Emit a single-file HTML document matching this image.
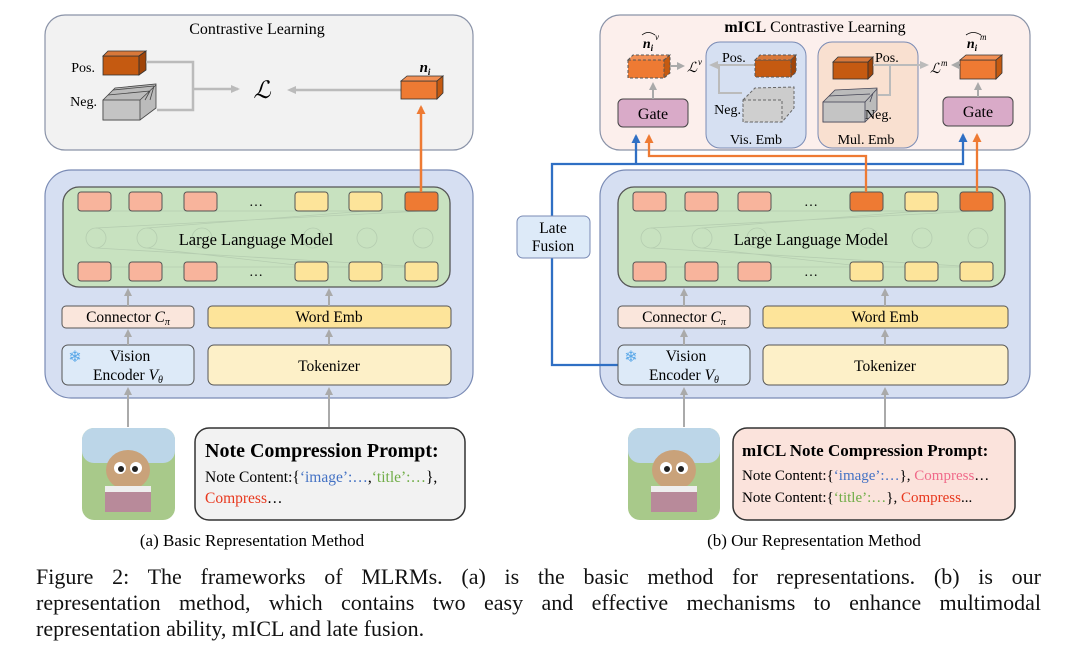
<!DOCTYPE html>
<html><head><meta charset="utf-8"><style>
body{margin:0;background:#fff;width:1080px;height:651px;overflow:hidden;position:relative;font-family:"Liberation Serif",serif}
svg{position:absolute;left:0;top:0}
.cap{position:absolute;left:36px;width:1005px;font-size:22px;color:#111;white-space:nowrap}
.j{text-align:justify;text-align-last:justify;white-space:normal}
</style></head><body>
<svg width="1080" height="651" viewBox="0 0 1080 651" font-family="Liberation Serif, serif">
<defs>
<marker id="ag" markerWidth="8" markerHeight="8" refX="6" refY="4" orient="auto" markerUnits="userSpaceOnUse"><path d="M0,0 L8,4 L0,8 Z" fill="#aaa"/></marker>
<marker id="ao" markerWidth="9" markerHeight="9" refX="7" refY="4.5" orient="auto" markerUnits="userSpaceOnUse"><path d="M0,0 L9,4.5 L0,9 Z" fill="#ee7a33"/></marker>
<marker id="ab" markerWidth="9" markerHeight="9" refX="7" refY="4.5" orient="auto" markerUnits="userSpaceOnUse"><path d="M0,0 L9,4.5 L0,9 Z" fill="#2f6fc4"/></marker>
<g id="llm">
<rect x="0" y="0" width="387" height="100" rx="16" fill="#c8e2c0" stroke="#555" stroke-width="1.3"/>
<g stroke="#b5cdb0" stroke-width="0.8" fill="none">
<circle cx="33" cy="51" r="10"/><circle cx="84" cy="51" r="10"/><circle cx="139" cy="51" r="10"/><circle cx="250" cy="51" r="10"/><circle cx="304" cy="51" r="10"/><circle cx="360" cy="51" r="10"/>
<path d="M33,24 L360,24 M33,80 L360,80 M33,41 L360,24 M84,41 L304,24 M33,61 L360,80 M84,61 L250,80"/>
</g>
</g>
</defs>

<!-- LEFT -->
<rect x="45" y="15" width="428" height="135" rx="20" fill="#f2f2f2" stroke="#8a93a8" stroke-width="1.2"/>
<text x="257" y="34" font-size="16" text-anchor="middle">Contrastive Learning</text>
<text x="95" y="72" font-size="14" text-anchor="end">Pos.</text>
<text x="97" y="106" font-size="14" text-anchor="end">Neg.</text>
<rect x="103" y="56" width="36" height="19" fill="#c55a11" stroke="#333" stroke-width="0.8"/>
<path d="M103,56 L108,51 L146,51 L139,56 Z" fill="#d8783a" stroke="#333" stroke-width="0.8"/>
<path d="M139,56 L146,51 L146,70 L139,75 Z" fill="#a04408" stroke="#333" stroke-width="0.8"/>
<path d="M103,100 L115,88 L156,84 L156,108 L140,120 L103,120 Z" fill="#bbb" stroke="#444" stroke-width="0.8"/>
<rect x="103" y="100" width="37" height="20" fill="#c4c4c4" stroke="#444" stroke-width="0.8"/>
<path d="M140,100 L156,85 M108,95 L150,91 M113,90 L154,86 M145,100 L150,91 M150,100 L154,86" stroke="#444" stroke-width="0.8" fill="none"/>
<path d="M146,62 L193,62 L193,110 L157,110 M193,89 L238,89" stroke="#bbb" stroke-width="2.5" fill="none"/>
<path d="M231,85 L240,89 L231,93 Z" fill="#bbb"/>
<text x="262" y="98" font-size="24" font-style="italic" text-anchor="middle">ℒ</text>
<path d="M401,90 L290,90" stroke="#bbb" stroke-width="2.5"/>
<path d="M296,86 L287,90 L296,94 Z" fill="#bbb"/>
<text x="425" y="72" font-size="15" font-weight="bold" font-style="italic" text-anchor="middle">n<tspan font-size="9" dy="3">i</tspan></text>
<rect x="401" y="81" width="36" height="18" fill="#ee7a33" stroke="#333" stroke-width="0.8"/>
<path d="M401,81 L407,76 L443,76 L437,81 Z" fill="#f29055" stroke="#333" stroke-width="0.8"/>
<path d="M437,81 L443,76 L443,93 L437,99 Z" fill="#c55a11" stroke="#333" stroke-width="0.8"/>

<rect x="45" y="170" width="428" height="228" rx="26" fill="#d6dff2" stroke="#7a8bb5" stroke-width="1.2"/>
<use href="#llm" x="63" y="187"/>
<g stroke="#555" stroke-width="1">
<rect x="78" y="192" width="33" height="19" rx="3" fill="#f8b49c"/><rect x="129" y="192" width="33" height="19" rx="3" fill="#f8b49c"/><rect x="184" y="192" width="33" height="19" rx="3" fill="#f8b49c"/>
<rect x="295" y="192" width="33" height="19" rx="3" fill="#fde49a"/><rect x="349" y="192" width="33" height="19" rx="3" fill="#fde49a"/><rect x="405" y="192" width="33" height="19" rx="3" fill="#ee7a33"/>
<rect x="78" y="262" width="33" height="19" rx="3" fill="#f8b49c"/><rect x="129" y="262" width="33" height="19" rx="3" fill="#f8b49c"/><rect x="184" y="262" width="33" height="19" rx="3" fill="#f8b49c"/>
<rect x="295" y="262" width="33" height="19" rx="3" fill="#fde49a"/><rect x="349" y="262" width="33" height="19" rx="3" fill="#fde49a"/><rect x="405" y="262" width="33" height="19" rx="3" fill="#fde49a"/>
</g>
<text x="256" y="206" font-size="14" text-anchor="middle">…</text><text x="256" y="276" font-size="14" text-anchor="middle">…</text>
<text x="256" y="245" font-size="16.5" text-anchor="middle">Large Language Model</text>
<path d="M421,192 L421,107" stroke="#ee7a33" stroke-width="2.5" marker-end="url(#ao)"/>
<rect x="62" y="306" width="132" height="22" rx="4" fill="#fae6dc" stroke="#555"/>
<text x="128" y="322" font-size="15.5" text-anchor="middle">Connector <tspan font-style="italic">C</tspan><tspan font-size="10" dy="3" font-style="italic">π</tspan></text>
<rect x="208" y="306" width="243" height="22" rx="4" fill="#fde49a" stroke="#555"/>
<text x="329" y="322" font-size="15.5" text-anchor="middle">Word Emb</text>
<rect x="62" y="345" width="132" height="40" rx="6" fill="#ddeaf8" stroke="#555"/>
<text x="75" y="362" font-size="16" fill="#5aa8e8" text-anchor="middle">❄</text>
<text x="130" y="361" font-size="15.5" text-anchor="middle">Vision</text>
<text x="128" y="380" font-size="15.5" text-anchor="middle">Encoder <tspan font-style="italic">V</tspan><tspan font-size="10" dy="3" font-style="italic">θ</tspan></text>
<rect x="208" y="345" width="243" height="40" rx="6" fill="#fdf0c8" stroke="#555"/>
<text x="329" y="371" font-size="15.5" text-anchor="middle">Tokenizer</text>
<g stroke="#aaa" stroke-width="2" marker-end="url(#ag)">
<path d="M128,345 L128,331"/><path d="M329,345 L329,331"/><path d="M128,306 L128,290"/><path d="M329,306 L329,290"/>
<path d="M128,427 L128,389"/><path d="M329,427 L329,389"/>
</g>
<rect x="82" y="428" width="93" height="92" rx="12" fill="#a8c98a"/>
<rect x="82" y="428" width="93" height="35" rx="12" fill="#bcd6e8"/>
<ellipse cx="128" cy="470" rx="22" ry="20" fill="#c9a27a"/>
<circle cx="120" cy="468" r="6" fill="#fff"/><circle cx="136" cy="468" r="6" fill="#fff"/><circle cx="121" cy="469" r="3" fill="#222"/><circle cx="135" cy="469" r="3" fill="#222"/>
<rect x="105" y="488" width="46" height="24" fill="#b88a9a"/><rect x="105" y="486" width="46" height="6" fill="#eee"/>
<rect x="195" y="428" width="270" height="92" rx="14" fill="#f2f2f2" stroke="#333" stroke-width="1.5"/>
<text x="205" y="457" font-size="20" font-weight="bold">Note Compression Prompt:</text>
<text x="205" y="482" font-size="15.5">Note Content:{<tspan fill="#4472c4">‘image’:…</tspan>,<tspan fill="#70ad47">‘title’:…</tspan>},</text>
<text x="205" y="503" font-size="15.5"><tspan fill="#e8381e">Compress</tspan>…</text>
<text x="252" y="546" font-size="17" text-anchor="middle">(a) Basic Representation Method</text>

<!-- RIGHT -->
<rect x="600" y="15" width="430" height="135" rx="20" fill="#fcefec" stroke="#8a93a8" stroke-width="1.2"/>
<text x="815" y="32" font-size="16" text-anchor="middle"><tspan font-weight="bold">mICL</tspan> Contrastive Learning</text>
<rect x="706" y="42" width="100" height="106" rx="14" fill="#d6e0f2" stroke="#7a8bb5"/>
<rect x="818" y="42" width="100" height="106" rx="14" fill="#f9e0d0" stroke="#7a8bb5"/>
<text x="756" y="144" font-size="14" text-anchor="middle">Vis. Emb</text>
<text x="866" y="144" font-size="14" text-anchor="middle">Mul. Emb</text>
<rect x="618" y="99" width="70" height="28" rx="5" fill="#d9aac8" stroke="#444"/>
<text x="653" y="119" font-size="16" text-anchor="middle">Gate</text>
<rect x="943" y="97" width="70" height="29" rx="5" fill="#d9aac8" stroke="#444"/>
<text x="978" y="117" font-size="16" text-anchor="middle">Gate</text>
<text x="648" y="48" font-size="14" font-weight="bold" font-style="italic" text-anchor="middle">n<tspan font-size="9" dy="3">i</tspan></text>
<text x="655" y="40" font-size="9" font-style="italic">v</text>
<path d="M642,35 Q648,30 655,35" stroke="#000" fill="none" stroke-width="0.8"/>
<rect x="628" y="60" width="36" height="18" fill="#ee7a33" stroke="#555" stroke-dasharray="3,2"/>
<path d="M628,60 L633,55 L670,55 L664,60 Z" fill="#f29055" stroke="#555" stroke-dasharray="3,2"/>
<path d="M664,60 L670,55 L670,73 L664,78 Z" fill="#c55a11" stroke="#555" stroke-dasharray="3,2"/>
<path d="M653,99 L653,84" stroke="#aaa" stroke-width="2" marker-end="url(#ag)"/>
<path d="M670,66 L683,66" stroke="#aaa" stroke-width="2" marker-end="url(#ag)"/>
<text x="687" y="72" font-size="14" font-style="italic">ℒ</text><text x="698" y="65" font-size="9" font-style="italic">v</text>
<path d="M755,65 L712,65 M719,65 L719,93 L742,93" stroke="#bbb" stroke-width="2" fill="none"/>
<path d="M718,61 L709,65 L718,69 Z" fill="#bbb"/>
<text x="722" y="62" font-size="14">Pos.</text>
<rect x="755" y="60" width="36" height="17" fill="#c55a11" stroke="#555" stroke-dasharray="3,2"/>
<path d="M755,60 L760,55 L796,55 L791,60 Z" fill="#d8783a" stroke="#555" stroke-dasharray="3,2"/>
<path d="M791,60 L796,55 L796,72 L791,77 Z" fill="#a04408" stroke="#555" stroke-dasharray="3,2"/>
<path d="M743,100 L755,88 L794,87 L794,108 L782,122 L743,122 Z" fill="#ccc" stroke="#666" stroke-dasharray="3,2"/>
<rect x="743" y="100" width="39" height="22" fill="#cfcfcf" stroke="#666" stroke-dasharray="3,2"/>
<text x="741" y="114" font-size="14" text-anchor="end">Neg.</text>
<rect x="833" y="62" width="35" height="17" fill="#c55a11" stroke="#333" stroke-width="0.8"/>
<path d="M833,62 L838,57 L873,57 L868,62 Z" fill="#d8783a" stroke="#333" stroke-width="0.8"/>
<path d="M868,62 L873,57 L873,74 L868,79 Z" fill="#a04408" stroke="#333" stroke-width="0.8"/>
<text x="875" y="62" font-size="14">Pos.</text>
<path d="M873,65 L922,65 M890,65 L890,95 L878,95" stroke="#bbb" stroke-width="2" fill="none"/>
<path d="M920,61 L929,65 L920,69 Z" fill="#bbb"/>
<path d="M823,102 L835,90 L877,88 L877,110 L865,122 L823,122 Z" fill="#bbb" stroke="#445" stroke-width="0.8"/>
<rect x="823" y="102" width="42" height="20" fill="#c4c4c4" stroke="#445" stroke-width="0.8"/>
<path d="M865,102 L877,89 M829,96 L870,94 M870,102 L873,93" stroke="#445" stroke-width="0.8" fill="none"/>
<text x="865" y="119" font-size="14">Neg.</text>
<text x="930" y="73" font-size="14" font-style="italic">ℒ</text><text x="941" y="66" font-size="9" font-style="italic">m</text>
<path d="M960,65 L953,65" stroke="#aaa" stroke-width="2" marker-end="url(#ag)"/>
<text x="972" y="48" font-size="14" font-weight="bold" font-style="italic" text-anchor="middle">n<tspan font-size="9" dy="3">i</tspan></text>
<text x="980" y="40" font-size="9" font-style="italic">m</text>
<path d="M966,35 Q973,30 981,35" stroke="#000" fill="none" stroke-width="0.8"/>
<rect x="960" y="60" width="36" height="19" fill="#ee7a33" stroke="#333" stroke-width="0.8"/>
<path d="M960,60 L966,55 L1002,55 L996,60 Z" fill="#f29055" stroke="#333" stroke-width="0.8"/>
<path d="M996,60 L1002,55 L1002,73 L996,79 Z" fill="#c55a11" stroke="#333" stroke-width="0.8"/>
<path d="M978,97 L978,84" stroke="#aaa" stroke-width="2" marker-end="url(#ag)"/>

<rect x="600" y="170" width="430" height="228" rx="26" fill="#d6dff2" stroke="#7a8bb5" stroke-width="1.2"/>
<use href="#llm" x="618" y="187"/>
<g stroke="#555" stroke-width="1">
<rect x="633" y="192" width="33" height="19" rx="3" fill="#f8b49c"/><rect x="685" y="192" width="33" height="19" rx="3" fill="#f8b49c"/><rect x="738" y="192" width="33" height="19" rx="3" fill="#f8b49c"/>
<rect x="850" y="192" width="33" height="19" rx="3" fill="#ee7a33"/><rect x="905" y="192" width="33" height="19" rx="3" fill="#fde49a"/><rect x="960" y="192" width="33" height="19" rx="3" fill="#ee7a33"/>
<rect x="633" y="262" width="33" height="19" rx="3" fill="#f8b49c"/><rect x="685" y="262" width="33" height="19" rx="3" fill="#f8b49c"/><rect x="738" y="262" width="33" height="19" rx="3" fill="#f8b49c"/>
<rect x="850" y="262" width="33" height="19" rx="3" fill="#fde49a"/><rect x="905" y="262" width="33" height="19" rx="3" fill="#fde49a"/><rect x="960" y="262" width="33" height="19" rx="3" fill="#fde49a"/>
</g>
<text x="811" y="206" font-size="14" text-anchor="middle">…</text><text x="811" y="276" font-size="14" text-anchor="middle">…</text>
<text x="811" y="245" font-size="16.5" text-anchor="middle">Large Language Model</text>
<path d="M618,365 L552,365 L552,164 L963,164 L963,135" stroke="#2f6fc4" stroke-width="2.3" fill="none" marker-end="url(#ab)"/>
<path d="M636,164 L636,136" stroke="#2f6fc4" stroke-width="2.3" marker-end="url(#ab)"/>
<path d="M866,192 L866,156 L649,156 L649,136" stroke="#ee7a33" stroke-width="2.3" fill="none" marker-end="url(#ao)"/>
<path d="M977,192 L977,135" stroke="#ee7a33" stroke-width="2.3" marker-end="url(#ao)"/>
<rect x="517" y="216" width="73" height="42" rx="6" fill="#ddeaf8" stroke="#7a8bb5"/>
<text x="553" y="233" font-size="15.5" text-anchor="middle">Late</text>
<text x="553" y="251" font-size="15.5" text-anchor="middle">Fusion</text>
<rect x="618" y="306" width="132" height="22" rx="4" fill="#fae6dc" stroke="#555"/>
<text x="684" y="322" font-size="15.5" text-anchor="middle">Connector <tspan font-style="italic">C</tspan><tspan font-size="10" dy="3" font-style="italic">π</tspan></text>
<rect x="763" y="306" width="245" height="22" rx="4" fill="#fde49a" stroke="#555"/>
<text x="885" y="322" font-size="15.5" text-anchor="middle">Word Emb</text>
<rect x="618" y="345" width="132" height="40" rx="6" fill="#ddeaf8" stroke="#555"/>
<text x="631" y="362" font-size="16" fill="#5aa8e8" text-anchor="middle">❄</text>
<text x="686" y="361" font-size="15.5" text-anchor="middle">Vision</text>
<text x="684" y="380" font-size="15.5" text-anchor="middle">Encoder <tspan font-style="italic">V</tspan><tspan font-size="10" dy="3" font-style="italic">θ</tspan></text>
<rect x="763" y="345" width="245" height="40" rx="6" fill="#fdf0c8" stroke="#555"/>
<text x="885" y="371" font-size="15.5" text-anchor="middle">Tokenizer</text>
<g stroke="#aaa" stroke-width="2" marker-end="url(#ag)">
<path d="M684,345 L684,331"/><path d="M885,345 L885,331"/><path d="M684,306 L684,290"/><path d="M885,306 L885,290"/>
<path d="M684,427 L684,389"/><path d="M885,427 L885,389"/>
</g>
<rect x="628" y="428" width="92" height="92" rx="12" fill="#a8c98a"/>
<rect x="628" y="428" width="92" height="35" rx="12" fill="#bcd6e8"/>
<ellipse cx="674" cy="470" rx="22" ry="20" fill="#c9a27a"/>
<circle cx="666" cy="468" r="6" fill="#fff"/><circle cx="682" cy="468" r="6" fill="#fff"/><circle cx="667" cy="469" r="3" fill="#222"/><circle cx="681" cy="469" r="3" fill="#222"/>
<rect x="651" y="488" width="46" height="24" fill="#b88a9a"/><rect x="651" y="486" width="46" height="6" fill="#eee"/>
<rect x="733" y="428" width="282" height="92" rx="14" fill="#fbe3dc" stroke="#333" stroke-width="1.5"/>
<text x="742" y="456" font-size="17" font-weight="bold">mICL Note Compression Prompt:</text>
<text x="742" y="480" font-size="15">Note Content:{<tspan fill="#4472c4">‘image’:…</tspan>}, <tspan fill="#f06a8a">Compress</tspan>…</text>
<text x="742" y="502" font-size="15">Note Content:{<tspan fill="#70ad47">‘title’:…</tspan>}, <tspan fill="#e8381e">Compress</tspan>...</text>
<text x="814" y="546" font-size="17" text-anchor="middle">(b) Our Representation Method</text>
</svg>
<div class="cap j" style="top:564px;height:27px;overflow:hidden">Figure 2: The frameworks of MLRMs. (a) is the basic method for representations. (b) is our</div>
<div class="cap j" style="top:590px;height:27px;overflow:hidden">representation method, which contains two easy and effective mechanisms to enhance multimodal</div>
<div class="cap" style="top:616px">representation ability, mICL and late fusion.</div>
</body></html>
